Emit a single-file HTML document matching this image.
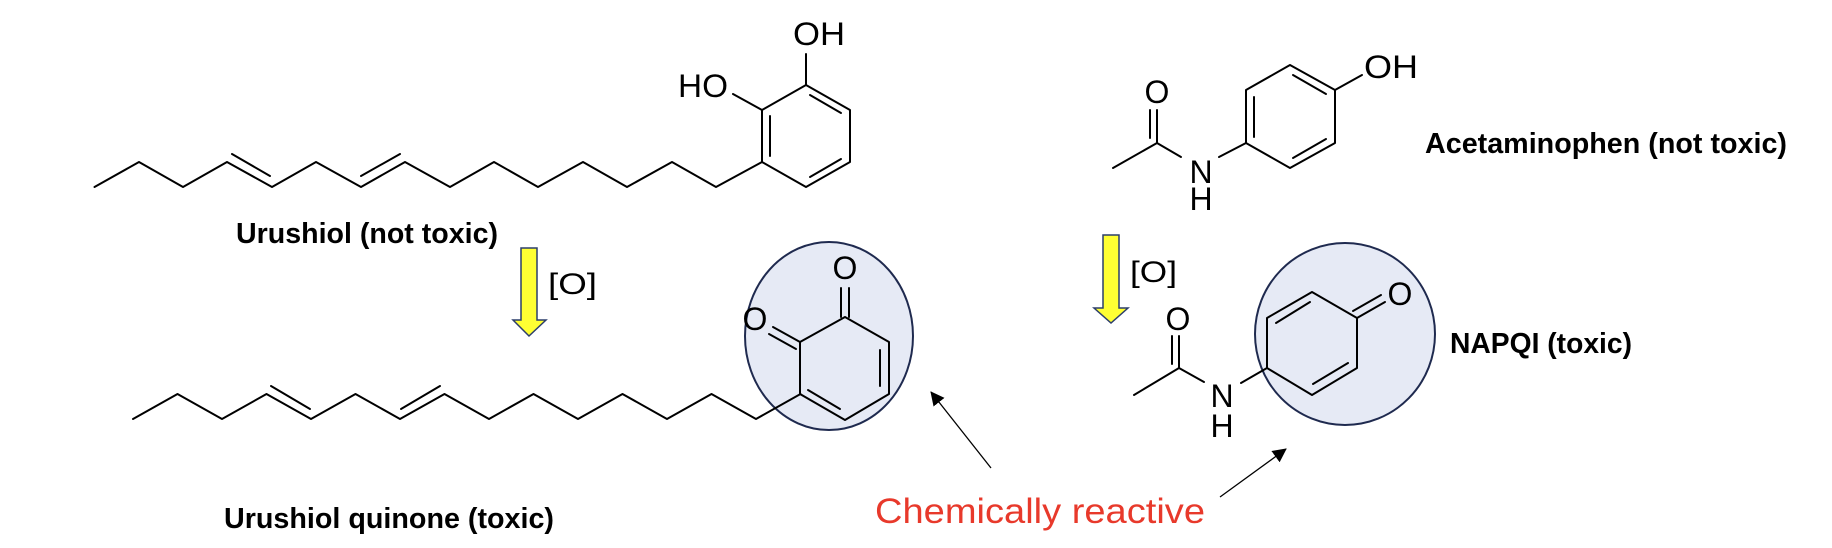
<!DOCTYPE html>
<html><head><meta charset="utf-8"><style>
html,body{margin:0;padding:0;background:#fff;}
svg{display:block;}
</style></head><body>
<svg width="1832" height="548" viewBox="0 0 1832 548" xmlns="http://www.w3.org/2000/svg">
<defs>
<marker id="ah" markerWidth="14" markerHeight="14" refX="13" refY="7" orient="auto" markerUnits="userSpaceOnUse" viewBox="0 0 14 14">
<path d="M0,0 L14,7 L0,14 z" fill="#000"/>
</marker>
</defs>
<g stroke="#000" stroke-width="2" fill="none" stroke-linecap="round" stroke-linejoin="round">
<polyline points="94.5,187 139,162 183,187 227,162 272,187 316,162 361,187 405,162 450,187 494,162 538,187 583,162 627,187 672,162 716,187 762,162"/>
<line x1="232" y1="154" x2="270" y2="176"/>
<line x1="361" y1="176" x2="400" y2="154"/>
<polygon points="762,162 762,110 806,85 850,110 850,162 806,187"/>
<line x1="770" y1="116" x2="770" y2="156"/>
<line x1="810" y1="95" x2="841" y2="113"/>
<line x1="841" y1="159" x2="810" y2="177"/>
<line x1="733" y1="94" x2="762" y2="110"/>
<line x1="806" y1="85" x2="806" y2="54"/>
</g>
<ellipse cx="829" cy="336" rx="84" ry="94" fill="#e6eaf5" stroke="#1f2a4f" stroke-width="2"/>
<ellipse cx="1345" cy="334" rx="90" ry="91" fill="#e6eaf5" stroke="#1f2a4f" stroke-width="2"/>
<g stroke="#000" stroke-width="2" fill="none" stroke-linecap="round" stroke-linejoin="round">
<polyline points="133,419 177.5,394 222,419 266.5,394 311,419 355.5,394 400,419 444.5,394 489,419 533.5,394 578,419 622.5,394 667,419 711.5,394 756,419 800.5,394"/>
<line x1="271" y1="386" x2="310" y2="409"/>
<line x1="401" y1="409" x2="440" y2="386"/>
<polygon points="800,394 800,342 845,317 889,342 889,394 845,420"/>
<line x1="880" y1="350" x2="880" y2="386"/>
<line x1="808" y1="390" x2="840" y2="409"/>
<line x1="841" y1="317" x2="841" y2="288"/>
<line x1="849" y1="317" x2="849" y2="288"/>
<line x1="800" y1="342" x2="773" y2="327"/>
<line x1="796" y1="349" x2="769" y2="334"/>
<polygon points="1290,65 1335,90 1335,143 1290,168 1246,143 1246,90"/>
<line x1="1254" y1="97" x2="1254" y2="137"/>
<line x1="1293" y1="75" x2="1326" y2="94"/>
<line x1="1326" y1="139" x2="1293" y2="158"/>
<line x1="1335" y1="90" x2="1362" y2="75"/>
<line x1="1219" y1="157" x2="1246" y2="143"/>
<line x1="1157" y1="143" x2="1181" y2="157"/>
<line x1="1113" y1="168" x2="1157" y2="143"/>
<line x1="1157" y1="143" x2="1157" y2="110"/>
<line x1="1150" y1="138" x2="1150" y2="110"/>
<polygon points="1312,292 1357,318 1357,368 1312,395 1267,368 1267,318"/>
<line x1="1276" y1="323" x2="1310" y2="302"/>
<line x1="1348" y1="363" x2="1313" y2="384"/>
<line x1="1357" y1="318" x2="1385" y2="302"/>
<line x1="1353" y1="311" x2="1381" y2="295"/>
<line x1="1241" y1="383" x2="1267" y2="368"/>
<line x1="1179" y1="368" x2="1204" y2="382"/>
<line x1="1134" y1="395" x2="1179" y2="368"/>
<line x1="1179" y1="368" x2="1179" y2="336"/>
<line x1="1172" y1="364" x2="1172" y2="336"/>
</g>
<line x1="991" y1="468" x2="931" y2="392" stroke="#000" stroke-width="1.3" marker-end="url(#ah)"/>
<line x1="1220" y1="497" x2="1286" y2="449" stroke="#000" stroke-width="1.3" marker-end="url(#ah)"/>
<polygon points="521,248 537,248 537,320 546,320 529,336 513,320 521,320" fill="#ffff33" stroke="#2c3e6b" stroke-width="1.5"/>
<polygon points="1103,235 1119,235 1119,308 1128,308 1111,323 1094,308 1103,308" fill="#ffff33" stroke="#2c3e6b" stroke-width="1.5"/>
<g font-family="Liberation Sans, sans-serif" font-size="32" fill="#000">
<text x="678" y="97" textLength="50" lengthAdjust="spacingAndGlyphs">HO</text>
<text x="793" y="45" textLength="52" lengthAdjust="spacingAndGlyphs">OH</text>
<text x="845" y="279" text-anchor="middle">O</text>
<text x="755" y="330" text-anchor="middle">O</text>
<text x="1364" y="78" textLength="54" lengthAdjust="spacingAndGlyphs">OH</text>
<text x="1201" y="183" text-anchor="middle">N</text>
<text x="1201" y="210" text-anchor="middle">H</text>
<text x="1157" y="103" text-anchor="middle">O</text>
<text x="1222" y="407" text-anchor="middle">N</text>
<text x="1222" y="437" text-anchor="middle">H</text>
<text x="1178" y="330" text-anchor="middle">O</text>
<text x="1400" y="305" text-anchor="middle">O</text>
<text x="548" y="294" font-size="30" textLength="49" lengthAdjust="spacingAndGlyphs">[O]</text>
<text x="1130" y="282" font-size="30" textLength="47" lengthAdjust="spacingAndGlyphs">[O]</text>
</g>
<g font-family="Liberation Sans, sans-serif" font-size="29" font-weight="bold" fill="#000">
<text x="236" y="243" textLength="262" lengthAdjust="spacingAndGlyphs">Urushiol (not toxic)</text>
<text x="224" y="528" textLength="330" lengthAdjust="spacingAndGlyphs">Urushiol quinone (toxic)</text>
<text x="1425" y="153" textLength="362" lengthAdjust="spacingAndGlyphs">Acetaminophen (not toxic)</text>
<text x="1450" y="353" textLength="182" lengthAdjust="spacingAndGlyphs">NAPQI (toxic)</text>
</g>
<text x="875" y="523" font-family="Liberation Sans, sans-serif" font-size="35" fill="#e8392b" textLength="330" lengthAdjust="spacingAndGlyphs">Chemically reactive</text>
</svg>
</body></html>
